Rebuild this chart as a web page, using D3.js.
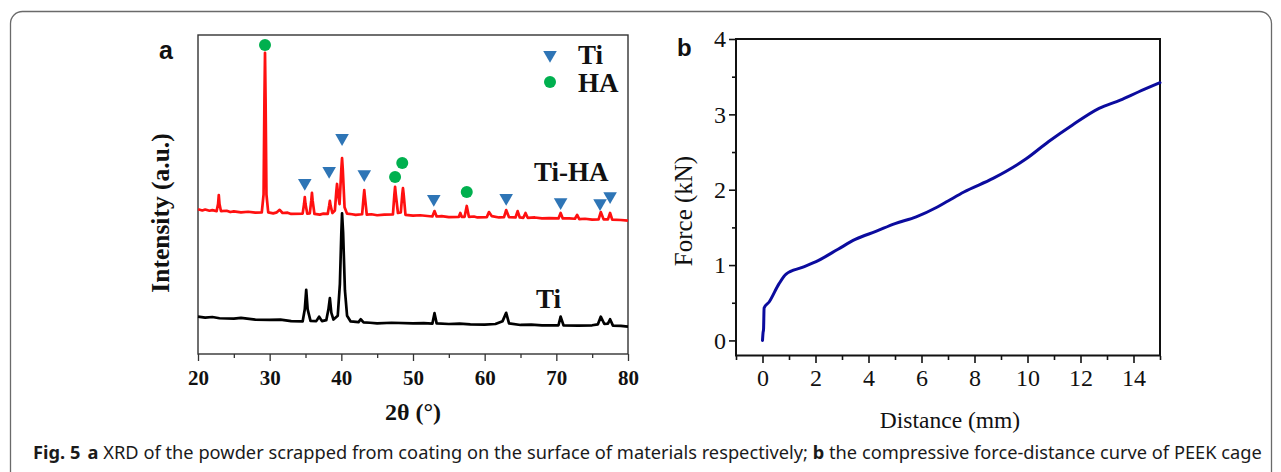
<!DOCTYPE html>
<html><head><meta charset="utf-8">
<script src="https://cdn.jsdelivr.net/npm/d3@7"></script>
<style>body{margin:0;background:#fff}svg{display:block}</style>
</head><body>
<svg id="fig" width="1281" height="472"></svg>
<script>
// ---------- DATA ----------
// Panel a: XRD patterns (2θ in degrees, intensity in arbitrary units)
const tiHA = [[20,45.4],[20.6,45.0],[21,45.3],[21.6,44.9],[22,45.1],[22.6,44.8],[22.8,47],[22.9,49.8],[23.0,47],[23.2,44.8],[24,44.9],[24.5,44.5],[25,44.7],[26,44.4],[27,44.6],[28,44.3],[28.9,44.4],[29.15,50],[29.27,80],[29.35,94.4],[29.43,80],[29.55,50],[29.8,44.4],[30.5,44.1],[31,44.4],[31.4,45.2],[31.8,44.2],[32.5,44.3],[33,43.9],[34.6,44.0],[34.8,47],[34.9,49.2],[35.0,47],[35.25,44.0],[35.6,44.1],[35.8,48],[35.9,50.5],[36.0,48],[36.25,43.9],[37,43.7],[37.5,44.0],[38.1,43.9],[38.3,46.5],[38.4,48.0],[38.5,46.5],[38.75,44.2],[39.1,45],[39.3,51],[39.4,53.3],[39.55,50],[39.75,47],[40.0,58],[40.1,61.4],[40.2,58],[40.45,46],[40.8,44],[41.5,43.8],[42,43.6],[42.9,43.8],[43.1,49],[43.2,51.4],[43.3,49],[43.55,43.7],[44.2,43.8],[45,43.5],[46,43.7],[47.2,43.8],[47.4,50],[47.5,52.4],[47.6,50],[47.9,44.2],[48.3,44.4],[48.5,50],[48.6,52.0],[48.7,50],[48.95,43.6],[50,43.4],[51,43.5],[52.7,43.1],[53.0,44.8],[53.3,43.1],[54,43.2],[55,42.9],[56.4,43.0],[56.6,44.2],[56.8,43],[57.2,43],[57.5,46.4],[57.8,43],[58.5,43.1],[59,42.8],[60.3,42.9],[60.6,44.5],[61.0,43.2],[62,42.8],[62.7,42.9],[63.0,45.1],[63.4,42.9],[64.3,42.8],[64.6,44.8],[64.9,42.8],[65.4,42.7],[65.7,44.2],[66,42.7],[67,42.8],[68,42.5],[69,42.6],[70.3,42.5],[70.6,44.2],[70.9,42.5],[71.8,42.5],[72.6,42.4],[72.9,43.6],[73.2,42.3],[74,42.4],[75,42.1],[75.9,42.2],[76.2,44.5],[76.6,42.2],[77.2,42.2],[77.5,44.2],[77.8,42.1],[79,42.0],[80,41.8]];
const tiOnly = [[20,11.7],[21,11.4],[22,11.6],[23,11.2],[25,11.1],[26,11.3],[28,10.8],[30,10.7],[31.5,10.8],[33,10.3],[34.6,10.2],[34.9,14],[35.1,20.1],[35.3,14],[35.7,10.4],[36.5,10.3],[36.9,11.7],[37.3,10.3],[37.9,10.6],[38.2,14],[38.4,17.5],[38.6,13],[38.9,10.8],[39.5,12],[39.8,22],[40.0,38],[40.1,44.1],[40.25,38],[40.5,20],[40.8,12],[41.3,10.2],[42.4,10],[42.7,10.9],[43.1,9.9],[44,9.8],[45,9.6],[47,9.8],[50,9.6],[51.5,9.7],[52.7,9.5],[53.0,12.8],[53.3,9.6],[55,9.4],[56.5,9.5],[58,9.3],[60,9.2],[61.5,9.4],[62.5,10.3],[63.0,12.9],[63.4,9.6],[65,9.1],[66.5,9.2],[68,9.0],[70.3,9.0],[70.6,11.7],[71.0,9.0],[73,8.9],[75,9.0],[75.8,9.3],[76.2,11.7],[76.7,9.4],[77.2,9.5],[77.5,10.9],[77.9,8.9],[79,8.8],[80,8.6]];
const tiMarkX = [34.9, 38.3, 40.1, 43.2, 52.9, 63.0, 70.6, 76.1, 77.5];
const tiMarkY = [53.6, 57.4, 67.7, 56.4, 48.6, 48.9, 47.6, 47.3, 49.5];
const haMarkX = [29.35, 47.5, 48.5, 57.5];
const haMarkY = [96.9, 55.5, 59.9, 50.8];
const xTicksA = [20, 30, 40, 50, 60, 70, 80];
const xMinorA = [25, 35, 45, 55, 65, 75];
const seriesLabels = ["Ti-HA", "Ti"];
const legendLabels = ["Ti", "HA"];

// Panel b: compressive force-distance curve
const distance = [0, 0.02, 0.04, 0.06, 0.25, 0.62, 0.89, 1.5, 2.1, 2.85, 3.5, 4.3, 5.0, 5.8, 6.6, 7.0, 7.6, 8.7, 9.95, 10.8, 11.7, 12.7, 13.5, 14.2, 15.0];
const force    = [0, 0.10, 0.15, 0.43, 0.51, 0.75, 0.88, 0.97, 1.06, 1.21, 1.34, 1.45, 1.55, 1.64, 1.77, 1.85, 1.97, 2.15, 2.41, 2.64, 2.86, 3.08, 3.19, 3.30, 3.42];
const xTicksB = [0, 2, 4, 6, 8, 10, 12, 14];
const xMinorB = [-1, 1, 3, 5, 7, 9, 11, 13, 15];
const yTicksB = [0, 1, 2, 3, 4];
const yMinorB = [0.5, 1.5, 2.5, 3.5];

// ---------- DRAW ----------
const svg = d3.select("#fig");
const serif = "'Liberation Serif','Times New Roman',serif";

// outer rounded frame
svg.append("rect").attr("x",10.5).attr("y",11.5).attr("width",1261).attr("height",520)
  .attr("rx",12).attr("fill","#fff").attr("stroke","#6a6a6a").attr("stroke-width",1.3);

// ===== Panel a =====
const xA = d3.scaleLinear().domain([20,80]).range([198,628]);
const yA = d3.scaleLinear().domain([0,100]).range([354,35]);
const gA = svg.append("g");

const axA = gA.append("g").attr("transform","translate(0,354)")
  .call(d3.axisBottom(xA).tickValues(xTicksA).tickSize(7).tickPadding(9).tickFormat(d3.format("d")));
axA.select(".domain").remove();
axA.selectAll("line").attr("stroke","#333").attr("stroke-width",1.3);
axA.selectAll("text").attr("font-family",serif).attr("font-weight","bold").attr("font-size",21).attr("fill","#111");
const axAm = gA.append("g").attr("transform","translate(0,354)")
  .call(d3.axisBottom(xA).tickValues(xMinorA).tickSize(4).tickFormat(""));
axAm.select(".domain").remove();
axAm.selectAll("line").attr("stroke","#333").attr("stroke-width",1.3);

gA.append("rect").attr("x",xA(20)).attr("y",yA(100)).attr("width",xA(80)-xA(20)).attr("height",yA(0)-yA(100))
  .attr("fill","none").attr("stroke","#333").attr("stroke-width",1.4);

const lineA = d3.line().x(d=>xA(d[0])).y(d=>yA(d[1]));
gA.append("path").datum(tiOnly).attr("d",lineA).attr("fill","none").attr("stroke","#000").attr("stroke-width",2.7).attr("stroke-linejoin","round");
gA.append("path").datum(tiHA).attr("d",lineA).attr("fill","none").attr("stroke","#ff1010").attr("stroke-width",2.7).attr("stroke-linejoin","round");

const tri = d3.symbol().type(d3.symbolTriangle).size(80);
gA.selectAll("path.ti").data(tiMarkX).join("path").attr("class","ti")
  .attr("d",tri).attr("fill","#2e75b6")
  .attr("transform",(d,i)=>`translate(${xA(d)},${yA(tiMarkY[i])}) rotate(180)`);
gA.selectAll("circle.ha").data(haMarkX).join("circle").attr("class","ha")
  .attr("cx",d=>xA(d)).attr("cy",(d,i)=>yA(haMarkY[i])).attr("r",6).attr("fill","#00b04f");

// legend
gA.append("path").attr("d",tri).attr("fill","#2e75b6").attr("transform","translate(550,55) rotate(180)");
gA.append("circle").attr("cx",550).attr("cy",82).attr("r",6).attr("fill","#00b04f");
gA.append("text").attr("x",578).attr("y",64).text(legendLabels[0])
  .attr("font-family",serif).attr("font-weight","bold").attr("font-size",27).attr("fill","#111");
gA.append("text").attr("x",578).attr("y",92).text(legendLabels[1])
  .attr("font-family",serif).attr("font-weight","bold").attr("font-size",27).attr("fill","#111");

// series labels
gA.append("text").attr("x",534).attr("y",181).text(seriesLabels[0])
  .attr("font-family",serif).attr("font-weight","bold").attr("font-size",27).attr("fill","#111");
gA.append("text").attr("x",536).attr("y",308).text(seriesLabels[1])
  .attr("font-family",serif).attr("font-weight","bold").attr("font-size",27).attr("fill","#111");

// axis titles
gA.append("text").attr("x",413).attr("y",420).attr("text-anchor","middle").text("2θ (°)")
  .attr("font-family",serif).attr("font-weight","bold").attr("font-size",24).attr("fill","#111");
gA.append("text").attr("transform","translate(169,213) rotate(-90)").attr("text-anchor","middle").text("Intensity (a.u.)")
  .attr("font-family",serif).attr("font-weight","bold").attr("font-size",25.5).attr("fill","#111");

// panel letter
gA.append("text").attr("x",159).attr("y",59).text("a")
  .attr("font-family","'Liberation Sans',Arial,sans-serif").attr("font-weight","bold").attr("font-size",25).attr("fill","#111");

// ===== Panel b =====
const xB = d3.scaleLinear().domain([-1,15]).range([736,1160]);
const yB = d3.scaleLinear().domain([-0.2,4]).range([355.5,39]);
const gB = svg.append("g");

const axBx = gB.append("g").attr("transform","translate(0,356)")
  .call(d3.axisBottom(xB).tickValues(xTicksB).tickSize(7).tickPadding(6).tickFormat(d3.format("d")));
axBx.select(".domain").remove();
axBx.selectAll("text").attr("font-family",serif).attr("font-size",24).attr("fill","#111");
const axBxm = gB.append("g").attr("transform","translate(0,356)")
  .call(d3.axisBottom(xB).tickValues(xMinorB).tickSize(4).tickFormat(""));
axBxm.select(".domain").remove();

const axBy = gB.append("g").attr("transform","translate(736,0)")
  .call(d3.axisLeft(yB).tickValues(yTicksB).tickSize(7).tickPadding(3).tickFormat(d3.format("d")));
axBy.select(".domain").remove();
axBy.selectAll("text").attr("font-family",serif).attr("font-size",24).attr("fill","#111");
const axBym = gB.append("g").attr("transform","translate(736,0)")
  .call(d3.axisLeft(yB).tickValues(yMinorB).tickSize(4).tickFormat(""));
axBym.select(".domain").remove();
gB.selectAll(".tick line").attr("stroke","#111").attr("stroke-width",1.6);

gB.append("rect").attr("x",xB(-1)).attr("y",yB(4)).attr("width",xB(15)-xB(-1)).attr("height",yB(-0.2)-yB(4))
  .attr("fill","none").attr("stroke","#111").attr("stroke-width",2);

const lineB = d3.line().x((d,i)=>xB(d)).y((d,i)=>yB(force[i])).curve(d3.curveMonotoneX);
gB.append("path").datum(distance).attr("d",lineB).attr("fill","none").attr("stroke","#0b0b9e").attr("stroke-width",3).attr("stroke-linecap","round");

gB.append("text").attr("x",950).attr("y",428).attr("text-anchor","middle").text("Distance (mm)")
  .attr("font-family",serif).attr("font-size",23.5).attr("fill","#111");
gB.append("text").attr("transform","translate(692,211) rotate(-90)").attr("text-anchor","middle").text("Force (kN)")
  .attr("font-family",serif).attr("font-size",25).attr("fill","#111");
gB.append("text").attr("x",677).attr("y",56).text("b")
  .attr("font-family","'Liberation Sans',Arial,sans-serif").attr("font-weight","bold").attr("font-size",24).attr("fill","#111");

// ===== Caption =====
const cap = svg.append("text").attr("x",33).attr("y",459)
  .attr("font-family","'Noto Sans','Open Sans',sans-serif").attr("font-size",17.5).attr("fill","#1a1a1a");
cap.append("tspan").attr("font-weight","bold").text("Fig. 5");
cap.append("tspan").attr("font-weight","bold").attr("dx",7).text("a");
cap.append("tspan").text(" XRD of the powder scrapped from coating on the surface of materials respectively; ");
cap.append("tspan").attr("font-weight","bold").text("b");
cap.append("tspan").text(" the compressive force-distance curve of PEEK cage");
const w = cap.node().getComputedTextLength();
const k = 1222 / w;
cap.attr("transform",`translate(33,0) scale(${k},1) translate(-33,0)`);
</script>
</body></html>
